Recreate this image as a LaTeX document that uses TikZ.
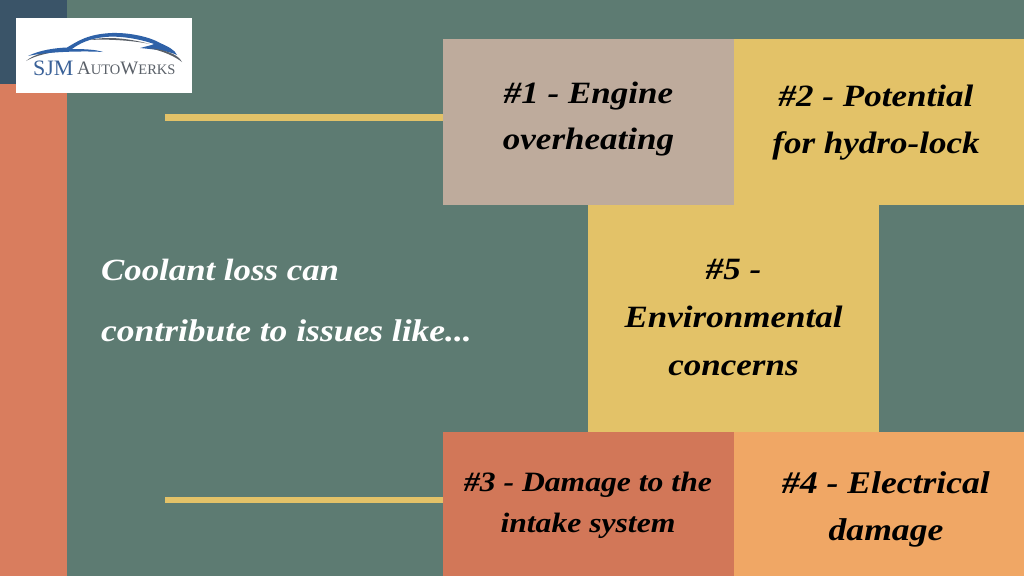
\documentclass[tikz,border=0pt]{standalone}
\usepackage{fontspec}
\setmainfont{Liberation Serif}
\newfontfamily\cardfont[FakeStretch=1.13,BoldItalicFont={Liberation Serif Bold Italic}]{Liberation Serif}
\definecolor{bgc}{HTML}{5D7B72}
\definecolor{navyc}{HTML}{3A5468}
\definecolor{coralc}{HTML}{D97D5E}
\definecolor{taupec}{HTML}{BEAB9C}
\definecolor{yellowc}{HTML}{E3C268}
\definecolor{redc}{HTML}{D27758}
\definecolor{orangec}{HTML}{F0A765}
\definecolor{logob}{HTML}{2F62A8}
\definecolor{logog}{HTML}{5A6068}
\tikzset{
 card/.style={draw=none,anchor=north west,inner sep=0pt,outer sep=0pt},
 cardtext/.style={text=black,align=center,inner sep=0pt},
 barline/.style={draw=yellowc,line width=6.5pt},
 lead/.style={text=white,anchor=base west,inner sep=0pt}
}
\newcommand{\cf}[2]{\fontsize{#1}{#2}\selectfont\cardfont\bfseries\itshape}
\begin{document}
\begin{tikzpicture}[x=1pt,y=-1pt]
\useasboundingbox (0,0) rectangle (1024,576);
\fill[bgc] (0,0) rectangle (1024,576);
\fill[navyc] (0,0) rectangle (67,84);
\fill[coralc] (0,84) rectangle (67,576);
% cards
\node[card,fill=taupec,minimum width=291pt,minimum height=166pt] (c1) at (443,39) {};
\node[card,fill=yellowc,minimum width=290pt,minimum height=166pt] (c2) at (734,39) {};
\node[card,fill=yellowc,minimum width=291pt,minimum height=227pt] (c5) at (588,205) {};
\node[card,fill=redc,minimum width=291pt,minimum height=144pt] (c3) at (443,432) {};
\node[card,fill=orangec,minimum width=290pt,minimum height=144pt] (c4) at (734,432) {};
% bars
\coordinate (b1) at (165,117.5);
\coordinate (b2) at (165,500);
\draw[barline] (b1) -- (c1.west |- b1);
\draw[barline] (b2) -- (c3.west |- b2);
% card texts
\node[cardtext,font=\cf{31}{46}] (t1) at (588.5,119) {\#1 - Engine\\overheating};
\node[cardtext,font=\cf{31}{47}] (t2) at (876,123) {\#2 - Potential\\for hydro-lock};
\node[cardtext,font=\cf{31}{48}] (t5) at (733.5,317) {\#5 -\\Environmental\\concerns};
\node[cardtext,font=\cf{28}{41}] (t3) at (588,505) {\#3 - Damage to the\\intake system};
\node[cardtext,font=\cf{31.5}{47}] (t4) at (886,509) {\#4 - Electrical\\damage};
% lead text
\node[lead,font=\cf{30.8}{31}] (l1) at (101,280) {Coolant loss can};
\node[lead,font=\cf{31.4}{31}] (l2) at (101,341) {contribute to issues like...};
% logo
\node[card,fill=white,minimum width=176pt,minimum height=75pt] (logo) at (16,18) {};
\fill[logog] (26,61) .. controls (34,54) and (50,50) .. (68,50) .. controls (52,52) and (36,55) .. (26,61) -- cycle;
\fill[logob] (28,56) .. controls (40,50) and (55,48) .. (67,47.5) .. controls (78,41) and (88,34) .. (112,33) .. controls (130,32.5) and (150,37) .. (160,43) .. controls (168,46.5) and (175,50) .. (177,55) .. controls (168,50.5) and (150,49) .. (140,48) .. controls (148,46) and (152,45) .. (154,44) .. controls (140,39) and (120,35.5) .. (105,37) .. controls (90,38.5) and (80,43) .. (72,49) .. controls (84,49) and (96,49.5) .. (103,52) .. controls (90,51) and (50,51) .. (28,56) -- cycle;
\fill[logog] (90,40) .. controls (105,36.5) and (125,37.5) .. (150,44) .. controls (130,40) and (105,39) .. (90,40) -- cycle;
\fill[logog] (150,48) .. controls (165,50) and (178,54) .. (182,62) .. controls (175,56.5) and (165,52) .. (150,48) -- cycle;
\node[inner sep=0pt,anchor=base west,text=logob!75!logog,font=\fontsize{22}{22}\selectfont] (logoa) at (33,75) {SJM};
\node[inner sep=0pt,anchor=base west,text=logog,font=\fontsize{19}{19}\selectfont] (logob) at (77,74) {A\fontsize{14.5}{14.5}\selectfont UTO\fontsize{19}{19}\selectfont W\fontsize{14.5}{14.5}\selectfont ERKS};
\end{tikzpicture}
\end{document}
